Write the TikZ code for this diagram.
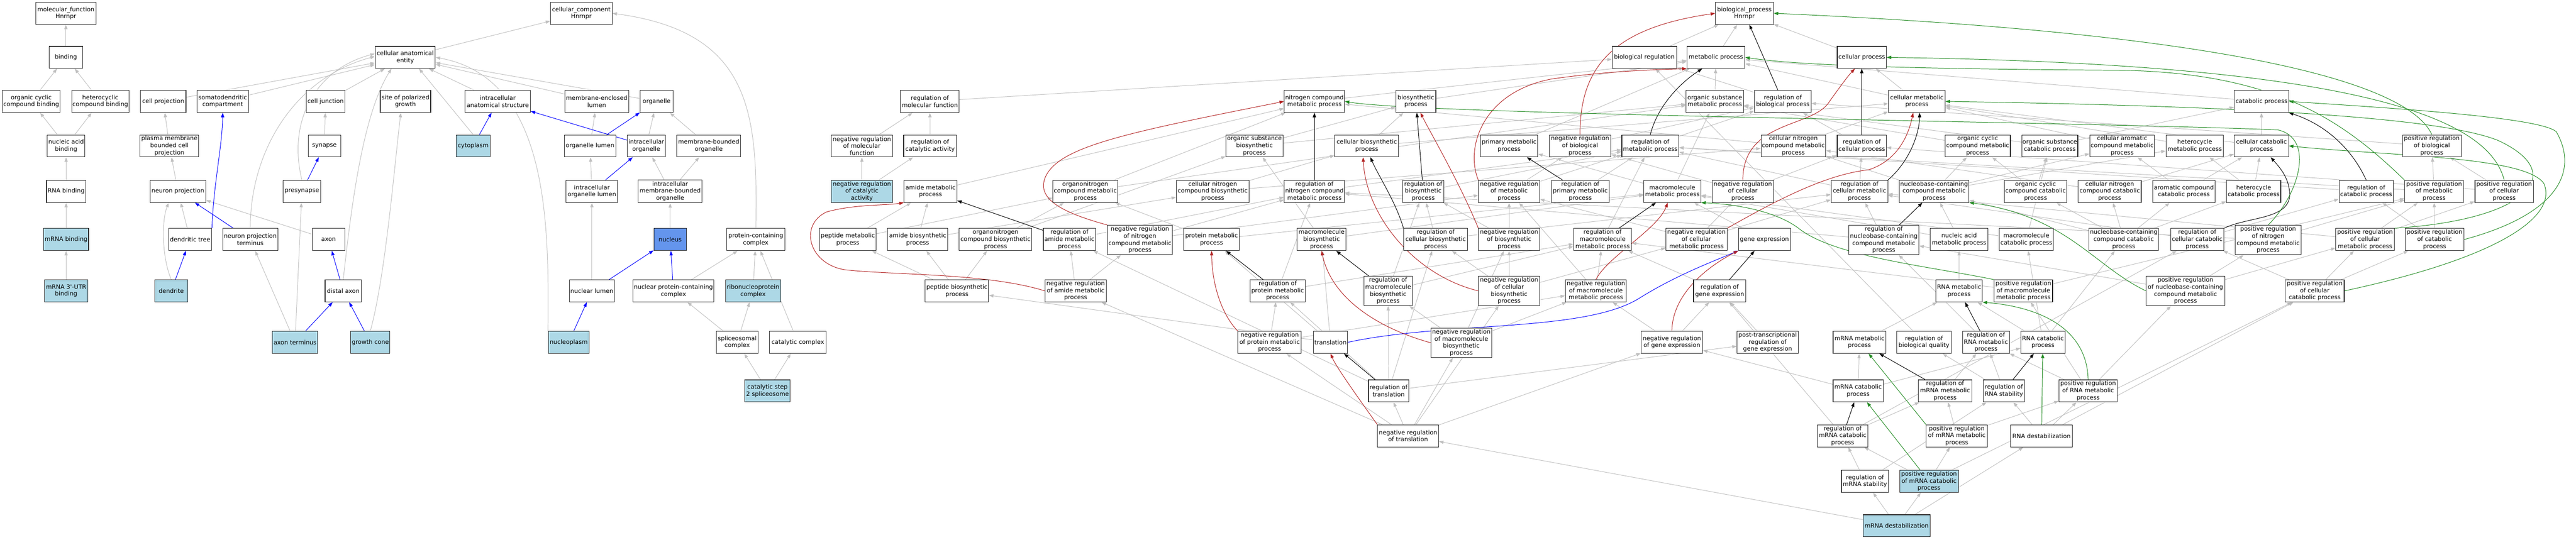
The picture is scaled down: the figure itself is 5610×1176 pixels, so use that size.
\documentclass[tikz,border=0pt]{standalone}
\usepackage{fontspec}
\newfontfamily\gofont{DejaVu Sans}
\usetikzlibrary{arrows.meta}
\definecolor{edgegray}{RGB}{192,192,192}
\definecolor{hitblue}{RGB}{173,216,230}
\definecolor{coreblue}{RGB}{100,149,237}
\definecolor{negred}{RGB}{178,34,34}
\definecolor{posgreen}{RGB}{34,139,34}
\definecolor{partblue}{RGB}{0,0,255}
\pgfdeclarelayer{bg}
\pgfsetlayers{bg,main}
\tikzset{
  box/.style={draw=black!85, line width=1.2pt, fill=white, align=center, inner sep=1pt,
    minimum height=48pt, font=\gofont\fontsize{13}{15.3}\selectfont},
  hit/.style={fill=hitblue},
  core/.style={fill=coreblue},
  tall/.style={minimum height=64pt},
  tip/.style={-{Triangle[length=10pt,width=7pt]}},
  isa/.style={draw=edgegray, line width=1.1pt, tip},
  partof/.style={draw=partblue, line width=1.1pt, tip},
  negrel/.style={draw=negred, line width=1.1pt, tip},
  posrel/.style={draw=posgreen, line width=1.1pt, tip},
  regrel/.style={draw=black, line width=1.1pt, tip}
}
\begin{document}
\begin{tikzpicture}[x=1pt,y=-1pt]
\useasboundingbox (0,0) rectangle (5610,1176);
% ---------------- molecular function ----------------
\node[box,minimum width=131pt] (mf) at (143.5,29) {molecular\_function\\Hnrnpr};
\node[box,minimum width=73pt] (binding) at (143.5,125) {binding};
\node[box,minimum width=126pt] (orgcycb) at (68,221) {organic cyclic\\compound binding};
\node[box,minimum width=125pt] (hetcycb) at (218.5,221) {heterocyclic\\compound binding};
\node[box,minimum width=82pt] (nucab) at (144,318) {nucleic acid\\binding};
\node[box,minimum width=86pt] (rnab) at (144,417) {RNA binding};
\node[box,hit,minimum width=98pt] (mrnab) at (144,522) {mRNA binding};
\node[box,hit,minimum width=94pt] (utrb) at (144,634) {mRNA 3'-UTR\\binding};
% ---------------- cellular component ----------------
\node[box,minimum width=134pt] (cc) at (1266,29) {cellular\_component\\Hnrnpr};
\node[box,minimum width=131pt] (cae) at (882.5,125) {cellular anatomical\\entity};
\node[box,minimum width=99pt] (cellproj) at (355.5,221) {cell projection};
\node[box,minimum width=112pt] (somato) at (485,221) {somatodendritic\\compartment};
\node[box,minimum width=84pt] (celljunc) at (709,221) {cell junction};
\node[box,minimum width=110pt] (sitepol) at (883,221) {site of polarized\\growth};
\node[box,minimum width=142pt] (intraanat) at (1084,221) {intracellular\\anatomical structure};
\node[box,minimum width=139pt] (memencl) at (1299.5,221) {membrane-enclosed\\lumen};
\node[box,minimum width=72pt] (organelle) at (1430,221) {organelle};
\node[box,minimum width=128pt] (pmbcp) at (369,318) {plasma membrane\\bounded cell\\projection};
\node[box,minimum width=71pt] (synapse) at (706.5,318) {synapse};
\node[box,hit,minimum width=75pt] (cytoplasm) at (1030.5,318) {cytoplasm};
\node[box,minimum width=112pt] (orglumen) at (1285,318) {organelle lumen};
\node[box,minimum width=83pt] (intraorg) at (1407.5,318) {intracellular\\organelle};
\node[box,minimum width=139pt] (mborg) at (1543.5,318) {membrane-bounded\\organelle};
\node[box,minimum width=121pt] (nproj) at (387.5,417) {neuron projection};
\node[box,minimum width=81pt] (presyn) at (657.5,417) {presynapse};
\node[box,minimum width=112pt] (intraorglumen) at (1289,417) {intracellular\\organelle lumen};
\node[box,minimum width=139pt,minimum height=50pt] (imborg) at (1459.5,417) {intracellular\\membrane-bounded\\organelle};
\node[box,minimum width=94pt] (dendtree) at (414,522) {dendritic tree};
\node[box,minimum width=120pt] (npterm) at (545,522) {neuron projection\\terminus};
\node[box,minimum width=71pt] (axon) at (715.5,522) {axon};
\node[box,core,minimum width=71pt] (nucleus) at (1459.5,522) {nucleus};
\node[box,minimum width=126pt] (pcc) at (1646,522) {protein-containing\\complex};
\node[box,hit,minimum width=72pt] (dendrite) at (373,634) {dendrite};
\node[box,minimum width=79pt] (distaxon) at (747.5,634) {distal axon};
\node[box,minimum width=98pt] (nuclumen) at (1289,634) {nuclear lumen};
\node[box,minimum width=177pt] (nucpcc) at (1466.5,634) {nuclear protein-containing\\complex};
\node[box,hit,minimum width=120pt] (rnp) at (1640,634) {ribonucleoprotein\\complex};
\node[box,hit,minimum width=99pt] (axonterm) at (642.5,746) {axon terminus};
\node[box,hit,minimum width=85pt] (growthcone) at (806.5,746) {growth cone};
\node[box,hit,minimum width=89pt] (nucleoplasm) at (1238.5,746) {nucleoplasm};
\node[box,minimum width=91pt] (spliceo) at (1605.5,746) {spliceosomal\\complex};
\node[box,minimum width=123pt] (catcomp) at (1737.5,746) {catalytic complex};
\node[box,hit,minimum width=99pt] (cs2) at (1671.5,852) {catalytic step\\2 spliceosome};
% ---------------- biological process ----------------
\node[box,minimum width=126pt] (bp) at (3799,29) {biological\_process\\Hnrnpr};
\node[box,minimum width=140pt] (bioreg) at (3581,125) {biological regulation};
\node[box,minimum width=126pt] (metab) at (3737,125) {metabolic process};
\node[box,minimum width=107pt] (cellproc) at (4054.5,125) {cellular process};
% row 221
\node[box,minimum width=128pt] (regmf) at (2025,221) {regulation of\\molecular function};
\node[box,minimum width=131pt] (ncmp) at (2862.5,221) {nitrogen compound\\metabolic process};
\node[box,minimum width=87pt] (biosyn) at (3083.5,221) {biosynthetic\\process};
\node[box,minimum width=125pt] (osmp) at (3734.5,221) {organic substance\\metabolic process};
\node[box,minimum width=123pt] (regbp) at (3882.5,221) {regulation of\\biological process};
\node[box,minimum width=123pt] (cmp) at (4174.5,221) {cellular metabolic\\process};
\node[box,minimum width=118pt] (catab) at (4925,221) {catabolic process};
% row 318
\node[box,minimum width=134pt] (negregmf) at (1877,318) {negative regulation\\of molecular\\function};
\node[box,minimum width=115pt] (regcat) at (2025.5,318) {regulation of\\catalytic activity};
\node[box,minimum width=124pt] (osbp) at (2732,318) {organic substance\\biosynthetic\\process};
\node[box,minimum width=139pt] (cbp) at (2976.5,318) {cellular biosynthetic\\process};
\node[box,minimum width=125pt] (pmp) at (3286.5,318) {primary metabolic\\process};
\node[box,minimum width=134pt] (negregbp) at (3441,318) {negative regulation\\of biological\\process};
\node[box,minimum width=124pt] (regmp) at (3594,318) {regulation of\\metabolic process};
\node[box,minimum width=141pt] (cncmp) at (3905.5,318) {cellular nitrogen\\compound metabolic\\process};
\node[box,minimum width=107pt] (regcp) at (4054.5,318) {regulation of\\cellular process};
\node[box,minimum width=142pt] (occmp) at (4307,318) {organic cyclic\\compound metabolic\\process};
\node[box,minimum width=122pt] (oscp) at (4464,318) {organic substance\\catabolic process};
\node[box,minimum width=141pt] (camp) at (4621.5,318) {cellular aromatic\\compound metabolic\\process};
\node[box,minimum width=125pt] (hmp) at (4779.5,318) {heterocycle\\metabolic process};
\node[box,minimum width=118pt] (ccp) at (4925,318) {cellular catabolic\\process};
\node[box,minimum width=128pt] (posregbp) at (5296,318) {positive regulation\\of biological\\process};
% row 417
\node[box,hit,minimum width=134pt] (negregcat) at (1877,417) {negative regulation\\of catalytic\\activity};
\node[box,minimum width=115pt] (amp) at (2026.5,417) {amide metabolic\\process};
\node[box,minimum width=141pt] (oncmp) at (2363.5,417) {organonitrogen\\compound metabolic\\process};
\node[box,minimum width=158pt] (cncbp) at (2641,417) {cellular nitrogen\\compound biosynthetic\\process};
\node[box,minimum width=131pt] (regncmp) at (2862.5,417) {regulation of\\nitrogen compound\\metabolic process};
\node[box,minimum width=89pt] (regbsp) at (3099.5,417) {regulation of\\biosynthetic\\process};
\node[box,minimum width=133pt] (negregmp) at (3286.5,417) {negative regulation\\of metabolic\\process};
\node[box,minimum width=125pt] (regpmp) at (3441.5,417) {regulation of\\primary metabolic\\process};
\node[box,minimum width=124pt] (mmp) at (3642,417) {macromolecule\\metabolic process};
\node[box,minimum width=133pt] (negregcp) at (3795.5,417) {negative regulation\\of cellular\\process};
\node[box,minimum width=123pt] (regcmp) at (4049.5,417) {regulation of\\cellular metabolic\\process};
\node[box,minimum width=152pt] (nbcmp) at (4212,417) {nucleobase-containing\\compound metabolic\\process};
\node[box,minimum width=136pt] (occcp) at (4433,417) {organic cyclic\\compound catabolic\\process};
\node[box,minimum width=137pt] (cnccp) at (4594.5,417) {cellular nitrogen\\compound catabolic\\process};
\node[box,minimum width=136pt] (accp) at (4756,417) {aromatic compound\\catabolic process};
\node[box,minimum width=118pt] (hcp) at (4908,417) {heterocycle\\catabolic process};
\node[box,minimum width=118pt] (regcatp) at (5153,417) {regulation of\\catabolic process};
\node[box,minimum width=128pt] (posregmp) at (5301,417) {positive regulation\\of metabolic\\process};
\node[box,minimum width=127pt] (posregcp) at (5453.5,417) {positive regulation\\of cellular\\process};
% row 522
\node[box,minimum width=123pt] (pepmp) at (1846.5,522) {peptide metabolic\\process};
\node[box,minimum width=131pt] (abp) at (1998.5,522) {amide biosynthetic\\process};
\node[box,minimum width=158pt] (oncbp) at (2168,522) {organonitrogen\\compound biosynthetic\\process};
\node[box,minimum width=114pt] (regamp) at (2329,522) {regulation of\\amide metabolic\\process};
\node[box,tall,minimum width=141pt] (negregncmp) at (2482.5,523) {negative regulation\\of nitrogen\\compound metabolic\\process};
\node[box,minimum width=121pt] (protmp) at (2638.5,522) {protein metabolic\\process};
\node[box,minimum width=106pt] (mbp) at (2878,522) {macromolecule\\biosynthetic\\process};
\node[box,minimum width=139pt] (regcbp) at (3126.5,522) {regulation of\\cellular biosynthetic\\process};
\node[box,minimum width=133pt] (negregbsp) at (3286.5,522) {negative regulation\\of biosynthetic\\process};
\node[box,minimum width=126pt] (regmmp) at (3490,522) {regulation of\\macromolecule\\metabolic process};
\node[box,minimum width=133pt] (negregcmp) at (3694.5,522) {negative regulation\\of cellular\\metabolic process};
\node[box,minimum width=113pt] (geneexp) at (3842.5,522) {gene expression};
\node[box,tall,minimum width=153pt] (regnbcmp) at (4102.5,523) {regulation of\\nucleobase-containing\\compound metabolic\\process};
\node[box,minimum width=125pt] (namp) at (4266.5,522) {nucleic acid\\metabolic process};
\node[box,minimum width=118pt] (mcp) at (4413,522) {macromolecule\\catabolic process};
\node[box,minimum width=152pt] (nbccp) at (4625,522) {nucleobase-containing\\compound catabolic\\process};
\node[box,minimum width=116pt] (regccp) at (4785,522) {regulation of\\cellular catabolic\\process};
\node[box,tall,minimum width=143pt] (posregncmp) at (4939.5,523) {positive regulation\\of nitrogen\\compound metabolic\\process};
\node[box,minimum width=127pt] (posregcmp) at (5150.5,522) {positive regulation\\of cellular\\metabolic process};
\node[box,minimum width=128pt] (posregcatp) at (5302,522) {positive regulation\\of catabolic\\process};
% row 634
\node[box,minimum width=138pt] (pepbp) at (2084,634) {peptide biosynthetic\\process};
\node[box,minimum width=133pt] (negregamp) at (2342.5,634) {negative regulation\\of amide metabolic\\process};
\node[box,minimum width=121pt] (regprotmp) at (2782.5,634) {regulation of\\protein metabolic\\process};
\node[box,tall,minimum width=106pt] (regmbp) at (3023,634) {regulation of\\macromolecule\\biosynthetic\\process};
\node[box,tall,minimum width=133pt] (negregcbp) at (3286.5,634) {negative regulation\\of cellular\\biosynthetic\\process};
\node[box,minimum width=133pt] (negregmmp) at (3475.5,634) {negative regulation\\of macromolecule\\metabolic process};
\node[box,minimum width=114pt] (reggeneexp) at (3745,634) {regulation of\\gene expression};
\node[box,minimum width=101pt] (rnamp) at (4266.5,634) {RNA metabolic\\process};
\node[box,minimum width=127pt] (posregmmp) at (4406.5,634) {positive regulation\\of macromolecule\\metabolic process};
\node[box,tall,minimum width=171pt] (posregnbcmp) at (4759.5,634) {positive regulation\\of nucleobase-containing\\compound metabolic\\process};
\node[box,minimum width=128pt] (posregccp) at (5041,634) {positive regulation\\of cellular\\catabolic process};
% row 746
\node[box,minimum width=138pt] (negregprotmp) at (2765,746) {negative regulation\\of protein metabolic\\process};
\node[box,minimum width=75pt] (transl) at (2897.5,746) {translation};
\node[box,tall,minimum width=133pt] (negregmbp) at (3182.5,747) {negative regulation\\of macromolecule\\biosynthetic\\process};
\node[box,minimum width=134pt] (negreggeneexp) at (3641,746) {negative regulation\\of gene expression};
\node[box,minimum width=133pt] (ptrge) at (3849.5,746) {post-transcriptional\\regulation of\\gene expression};
\node[box,minimum width=115pt] (mrnamp) at (4049.5,746) {mRNA metabolic\\process};
\node[box,minimum width=118pt] (regbq) at (4190,746) {regulation of\\biological quality};
\node[box,minimum width=102pt] (regrnamp) at (4325,746) {regulation of\\RNA metabolic\\process};
\node[box,minimum width=96pt] (rnacp) at (4449,746) {RNA catabolic\\process};
% row 852
\node[box,minimum width=88pt] (regtransl) at (3024,852) {regulation of\\translation};
\node[box,minimum width=109pt] (mrnacp) at (4046.5,852) {mRNA catabolic\\process};
\node[box,minimum width=116pt] (regmrnamp) at (4236,852) {regulation of\\mRNA metabolic\\process};
\node[box,minimum width=90pt] (regrnastab) at (4364,852) {regulation of\\RNA stability};
\node[box,minimum width=127pt] (posregrnamp) at (4547.5,852) {positive regulation\\of RNA metabolic\\process};
% row 950
\node[box,minimum width=133pt] (negregtransl) at (3066.5,950) {negative regulation\\of translation};
\node[box,minimum width=110pt] (regmrnacp) at (4013,950) {regulation of\\mRNA catabolic\\process};
\node[box,minimum width=133pt] (posregmrnamp) at (4261.5,950) {positive regulation\\of mRNA metabolic\\process};
\node[box,minimum width=134pt] (rnadestab) at (4446,950) {RNA destabilization};
% row 1049 / 1146
\node[box,minimum width=103pt] (regmrnastab) at (4061.5,1049) {regulation of\\mRNA stability};
\node[box,hit,minimum width=128pt] (posregmrnacp) at (4201,1049) {positive regulation\\of mRNA catabolic\\process};
\node[box,hit,minimum width=145pt] (mrnadestab) at (4130.5,1146) {mRNA destabilization};

\begin{pgfonlayer}{bg}
% ---------- is_a (gray, straight) ----------
\foreach \a/\b in {binding/mf, orgcycb/binding, hetcycb/binding, nucab/orgcycb, nucab/hetcycb,
  rnab/nucab, mrnab/rnab, utrb/mrnab,
  cae/cc, cellproj/cae, somato/cae, celljunc/cae, pmbcp/cellproj, nproj/pmbcp, synapse/celljunc,
  dendtree/nproj, axon/nproj, axonterm/npterm, axonterm/presyn, intraanat/cae, memencl/cae,
  organelle/cae, orglumen/memencl, intraorg/organelle, mborg/organelle,
  intraorglumen/orglumen, imborg/intraorg, imborg/mborg, nucleus/imborg, nuclumen/intraorglumen,
  nucpcc/pcc, rnp/pcc, catcomp/pcc, spliceo/nucpcc, spliceo/rnp, cs2/spliceo, cs2/catcomp,
  bioreg/bp, metab/bp, cellproc/bp, regbp/bioreg, regmf/bioreg, regbq/bioreg,
  osmp/metab, cmp/metab, ncmp/metab, biosyn/metab, catab/metab, pmp/metab, cmp/cellproc,
  negregmf/regmf, regcat/regmf, negregcat/negregmf, negregcat/regcat,
  osbp/osmp, osbp/biosyn, cbp/biosyn, cbp/cmp, negregbp/regbp, regmp/regbp, cncmp/ncmp, cncmp/cmp,
  regcp/regbp, occmp/osmp, oscp/osmp, oscp/catab, camp/cmp, hmp/cmp, ccp/catab, ccp/cmp, posregbp/regbp,
  amp/ncmp, oncmp/osmp, oncmp/ncmp, cncbp/cncmp, cncbp/cbp, regncmp/regmp, regbsp/regmp,
  negregmp/regmp, negregmp/negregbp, regpmp/regmp, mmp/osmp, mmp/pmp, negregcp/regcp, negregcp/negregbp,
  regcmp/regmp, regcmp/regcp, nbcmp/occmp, nbcmp/cncmp, nbcmp/camp, nbcmp/hmp, occcp/occmp, occcp/oscp,
  cnccp/cncmp, cnccp/ccp, accp/camp, accp/ccp, hcp/hmp, hcp/ccp, regcatp/regmp, posregmp/regmp,
  posregmp/posregbp, posregcp/regcp, posregcp/posregbp,
  pepmp/amp, pepmp/oncmp, abp/amp, abp/cncbp, oncbp/oncmp, oncbp/osbp, regamp/regncmp,
  negregncmp/regncmp, negregncmp/negregmp, protmp/oncmp, protmp/mmp, mbp/mmp, mbp/osbp,
  regcbp/regbsp, regcbp/regcmp, negregbsp/regbsp, negregbsp/negregmp, regmmp/regmp,
  negregcmp/negregmp, negregcmp/negregcp, negregcmp/regcmp, geneexp/mmp, regnbcmp/regcmp,
  regnbcmp/regncmp, namp/nbcmp, namp/mmp, mcp/mmp, mcp/oscp, nbccp/nbcmp, nbccp/cnccp, nbccp/accp,
  nbccp/hcp, nbccp/occcp, regccp/regcatp, regccp/regcmp, posregncmp/regncmp, posregncmp/posregmp,
  posregcmp/regcmp, posregcmp/posregmp, posregcmp/posregcp, posregcatp/regcatp, posregcatp/posregmp,
  pepbp/pepmp, pepbp/abp, pepbp/oncbp, negregamp/regamp, negregamp/negregncmp, regprotmp/regmmp,
  regprotmp/regncmp, regmbp/regmmp, regmbp/regbsp, negregcbp/regcbp, negregcbp/negregbsp,
  negregcbp/negregcmp, negregmmp/regmmp, negregmmp/negregmp, reggeneexp/regmmp, rnamp/namp,
  posregmmp/regmmp, posregmmp/posregmp, posregnbcmp/regnbcmp, posregnbcmp/posregcmp,
  posregnbcmp/posregncmp, posregccp/regccp, posregccp/posregcatp, posregccp/posregcmp,
  negregprotmp/regprotmp, negregprotmp/negregmmp, transl/pepbp, transl/protmp, transl/mbp,
  negregmbp/regmbp, negregmbp/negregbsp, negregmbp/negregmmp, negreggeneexp/reggeneexp,
  negreggeneexp/negregmmp, ptrge/reggeneexp, mrnamp/rnamp, regrnamp/regnbcmp, rnacp/rnamp,
  rnacp/mcp, rnacp/nbccp, regtransl/regmbp, regtransl/regprotmp, regtransl/regamp, regtransl/ptrge,
  regtransl/regcbp, mrnacp/mrnamp, mrnacp/rnacp, mrnacp/negreggeneexp, regmrnamp/regrnamp,
  regrnastab/regbq, regrnastab/regrnamp, posregrnamp/regrnamp, posregrnamp/posregnbcmp,
  posregrnamp/posregmmp, negregtransl/regtransl, negregtransl/negregmbp, negregtransl/negregprotmp,
  negregtransl/negregamp, negregtransl/negregcbp, negregtransl/negreggeneexp, regmrnacp/regmrnamp,
  regmrnacp/reggeneexp, regmrnacp/regccp, posregmrnamp/regmrnamp, posregmrnamp/posregrnamp,
  rnadestab/regrnastab, rnadestab/posregrnamp, rnadestab/posregccp, regmrnastab/regmrnacp,
  regmrnastab/regrnastab, posregmrnacp/regmrnacp, posregmrnacp/posregmrnamp, posregmrnacp/posregccp,
  mrnadestab/regmrnastab, mrnadestab/posregmrnacp, mrnadestab/rnadestab, mrnadestab/negregtransl}
  \draw[isa] (\a) -- (\b);
% gray curved
\draw[isa] (presyn.north) .. controls (625,260) and (690,150) .. ([yshift=8pt]cae.west);
\draw[isa] (npterm.north) .. controls (545,330) and (640,170) .. ([yshift=2pt]cae.west);
\draw[isa] (distaxon.north) .. controls (765,450) and (790,250) .. ([xshift=-30pt]cae.south);
\draw[isa] (dendrite.north) .. controls (352,560) and (352,480) .. ([xshift=-20pt]nproj.south);
\draw[isa] (growthcone.north) .. controls (840,600) and (860,350) .. ([xshift=-10pt]sitepol.south);
\draw[isa] (cytoplasm.north) -- ([xshift=30pt]cae.south);
\draw[isa] (nucleoplasm.north west) .. controls (1195,500) and (1200,170) .. (cae.east);
\draw[isa] (pcc.north) .. controls (1650,250) and (1640,70) .. (cc.east);
% ---------- part_of (blue) ----------
\foreach \a/\b in {presyn/synapse, npterm/nproj, dendrite/dendtree, distaxon/axon, axonterm/distaxon,
  growthcone/distaxon, cytoplasm/intraanat, orglumen/organelle, intraorg/intraanat,
  intraorglumen/intraorg, nuclumen/nucleus, nucpcc/nucleus, nucleoplasm/nuclumen}
  \draw[partof] (\a) -- (\b);
\draw[partof] (dendtree.north east) .. controls (465,400) and (484,320) .. (somato.south);
\draw[partof] (transl.east) .. controls (3150,700) and (3450,725) .. (3570,650) .. controls (3650,600) and (3730,570) .. (geneexp.south west);
% ---------- regulates (black) ----------
\foreach \a/\b in {regprotmp/protmp, regamp/amp, regmbp/mbp, regbsp/biosyn, regncmp/ncmp, regpmp/pmp,
  regmmp/mmp, regbp/bp, regcp/cellproc, regnbcmp/nbcmp, reggeneexp/geneexp, regtransl/transl,
  regmrnacp/mrnacp, regmrnamp/mrnamp, regrnamp/rnamp, regrnastab/rnacp}
  \draw[regrel] (\a) -- (\b);
\draw[regrel] (regcbp.north west) .. controls (3040,440) and (3000,380) .. ([xshift=8pt]cbp.south);
\draw[regrel] (regmp.north) .. controls (3610,230) and (3660,180) .. ([xshift=-30pt]metab.south);
\draw[regrel] (regcmp.north east) .. controls (4160,350) and (4180,290) .. ([xshift=6pt]cmp.south);
\draw[regrel] (regcatp.north) .. controls (5120,320) and (5060,270) .. (catab.south east);
\draw[regrel] (regccp.north east) .. controls (4900,470) and (5000,480) .. (4985,410) .. controls (4980,380) and (4960,360) .. ([xshift=20pt]ccp.south);
% ---------- negatively regulates (red) ----------
\draw[negrel] (negregamp.west) .. controls (2150,595) and (1950,600) .. (1840,588) .. controls (1760,575) and (1740,490) .. (1800,462) .. controls (1860,445) and (1930,448) .. (amp.south west);
\draw[negrel] (negregncmp.north west) .. controls (2300,460) and (2262,430) .. (2275,390) .. controls (2300,320) and (2450,290) .. (ncmp.west);
\draw[negrel] (negregbp.north) .. controls (3440,140) and (3520,60) .. (bp.west);
\draw[negrel] (negregmp.north west) .. controls (3190,320) and (3230,200) .. (3380,172) .. controls (3500,155) and (3600,152) .. (metab.south west);
\draw[negrel] (negregcp.north) .. controls (3796,260) and (3950,280) .. (3985,220) .. controls (4010,185) and (4025,165) .. ([xshift=-15pt]cellproc.south);
\draw[negrel] (negregcmp.north east) .. controls (3880,430) and (3980,380) .. (4070,370) .. controls (4130,350) and (4155,300) .. ([xshift=-8pt]cmp.south);
\draw[negrel] (negregmmp.north) .. controls (3500,560) and (3610,500) .. ([xshift=-10pt]mmp.south);
\draw[negrel] (negreggeneexp.north) .. controls (3642,640) and (3720,580) .. (geneexp.south west);
\draw[negrel] (negregprotmp.north west) .. controls (2665,690) and (2640,630) .. (protmp.south);
\draw[negrel] (negregmbp.west) .. controls (3000,715) and (2900,650) .. (mbp.south);
\draw[negrel] (negregcbp.west) .. controls (3080,600) and (2975,470) .. ([xshift=-8pt]cbp.south);
\draw[negrel] (negregbsp.north west) .. controls (3180,400) and (3110,280) .. ([xshift=10pt]biosyn.south);
\draw[negrel] (negregtransl.north west) .. controls (2960,870) and (2910,800) .. (transl.south);
% ---------- positively regulates (green) ----------
\draw[posrel] (posregbp.north) .. controls (5240,170) and (4800,70) .. (bp.east);
\draw[posrel] (posregcp.north) .. controls (5420,260) and (5150,140) .. (cellproc.east);
\draw[posrel] (posregmp.north west) .. controls (5100,260) and (4950,155) .. (4600,153) .. controls (4100,150) and (3900,140) .. (metab.east);
\draw[posrel] (posregcmp.north east) .. controls (5500,480) and (5600,380) .. (5440,306) .. controls (5300,250) and (4800,230) .. (cmp.east);
\draw[posrel] (posregcatp.east) .. controls (5560,470) and (5620,380) .. (5567,287) .. controls (5530,255) and (5200,235) .. (catab.east);
\draw[posrel] (posregccp.east) .. controls (5450,560) and (5570,470) .. (5540,400) .. controls (5500,340) and (5200,340) .. (ccp.east);
\draw[posrel] (posregncmp.north) .. controls (5010,420) and (5040,300) .. (4960,283) .. controls (4500,265) and (3100,250) .. (ncmp.east);
\draw[posrel] (posregmmp.north west) .. controls (4200,580) and (4000,560) .. (3920,500) .. controls (3870,460) and (3780,445) .. (mmp.south east);
\draw[posrel] (posregnbcmp.west) .. controls (4560,580) and (4500,470) .. (nbcmp.south east);
\draw[posrel] (posregrnamp.north) .. controls (4545,720) and (4450,670) .. (rnamp.south east);
\draw[posrel] (posregmrnamp.north west) -- (mrnamp);
\draw[posrel] (posregmrnacp) -- (mrnacp);
\draw[posrel] (rnadestab) -- (rnacp);
\end{pgfonlayer}
\end{tikzpicture}
\end{document}
